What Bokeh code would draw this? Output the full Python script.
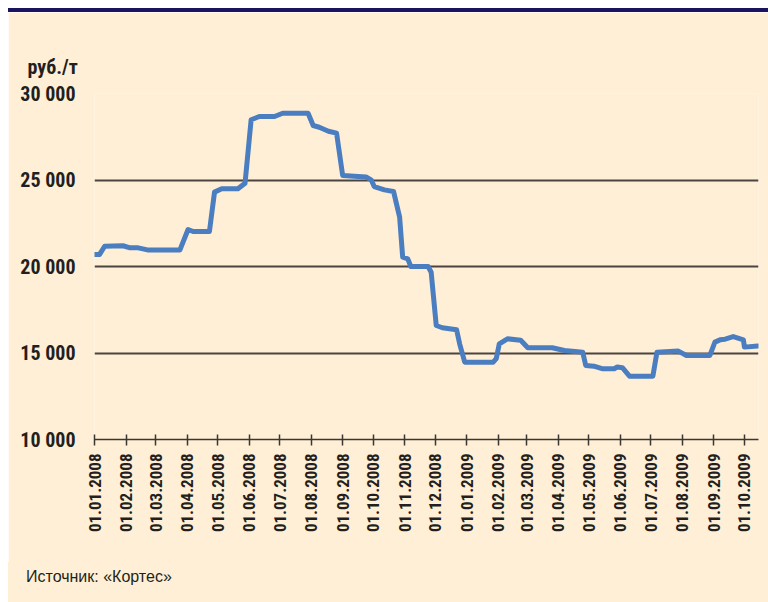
import math
import pandas as pd
from bokeh.plotting import figure
from bokeh.models import (ColumnDataSource, FixedTicker, DatetimeTickFormatter,
                          Range1d, Div)
from bokeh.layouts import column
from bokeh.embed import file_html
from bokeh.resources import INLINE

# ---- data ----
dates = [
    "2008-01-01", "2008-01-06", "2008-01-11", "2008-01-29", "2008-02-05", "2008-02-13",
    "2008-02-22", "2008-03-25", "2008-04-02", "2008-04-07", "2008-04-23", "2008-04-28",
    "2008-05-05", "2008-05-21", "2008-05-28", "2008-06-03", "2008-06-11", "2008-06-26",
    "2008-07-04", "2008-07-29", "2008-08-03", "2008-08-09", "2008-08-18", "2008-08-26",
    "2008-09-01", "2008-09-24", "2008-09-29", "2008-10-02", "2008-10-12", "2008-10-21",
    "2008-10-27", "2008-10-30", "2008-11-04", "2008-11-07", "2008-11-24", "2008-11-27",
    "2008-12-02", "2008-12-08", "2008-12-22", "2008-12-25", "2008-12-30", "2009-01-27",
    "2009-01-30", "2009-02-02", "2009-02-10", "2009-02-23", "2009-03-02", "2009-03-26",
    "2009-04-07", "2009-04-25", "2009-04-28", "2009-05-06", "2009-05-14", "2009-05-26",
    "2009-05-29", "2009-06-03", "2009-06-10", "2009-07-03", "2009-07-07", "2009-07-28",
    "2009-08-05", "2009-08-28", "2009-09-02", "2009-09-07", "2009-09-12", "2009-09-20",
    "2009-09-30", "2009-10-01", "2009-10-14",
]
prices = [
    20700, 20700, 21170, 21200, 21080, 21080,
    20960, 20960, 22140, 22020, 22020, 24300,
    24490, 24490, 24815, 28480, 28670, 28670,
    28860, 28860, 28150, 28050, 27820, 27710,
    25260, 25170, 25010, 24620, 24430, 24340,
    22850, 20540, 20445, 20000, 20000, 19670,
    16590, 16460, 16340, 15530, 14470, 14470,
    14670, 15530, 15820, 15740, 15300, 15300,
    15145, 15050, 14280, 14240, 14090, 14090,
    14190, 14150, 13660, 13660, 15050, 15110,
    14860, 14860, 15630, 15760, 15800, 15950,
    15760, 15340, 15400,
]
month_ticks = [
    "2008-01-01", "2008-02-01", "2008-03-01", "2008-04-01", "2008-05-01", "2008-06-01",
    "2008-07-01", "2008-08-01", "2008-09-01", "2008-10-01", "2008-11-01", "2008-12-01",
    "2009-01-01", "2009-02-01", "2009-03-01", "2009-04-01", "2009-05-01", "2009-06-01",
    "2009-07-01", "2009-08-01", "2009-09-01", "2009-10-01",
]
y_ticks = [10000, 15000, 20000, 25000, 30000]
y_tick_labels = ["10 000", "15 000", "20 000", "25 000", "30 000"]
unit_text = "руб./т"
source_text = "Источник: «Кортес»"

# ---- styles ----
BG = "#FFEFD6"
NAVY = "#1B1260"
TXT = "#231F20"
LINE = "#4A7EC0"
COND = "Roboto Condensed"

W = 760
src = ColumnDataSource(data=dict(x=pd.to_datetime(dates), y=prices))

p = figure(width=W, height=550, x_axis_type="datetime",
           output_backend="svg", toolbar_location=None,
           x_range=Range1d(pd.Timestamp("2008-01-01"), pd.Timestamp("2009-10-14 20:00")),
           y_range=Range1d(10000, 30000),
           min_border_left=86, min_border_right=10, min_border_top=81, min_border_bottom=123)
p.margin = (0, 0, 0, 8)
p.background_fill_color = BG
p.border_fill_color = BG
p.outline_line_color = None

p.line("x", "y", source=src, line_color=LINE, line_width=5, line_join="round", line_cap="round")

# x axis
xa = p.xaxis[0]
xa.ticker = FixedTicker(ticks=[pd.Timestamp(d).value / 1e6 for d in month_ticks])
fmt = "%d.%m.%Y"
xa.formatter = DatetimeTickFormatter(days=fmt, months=fmt, years=fmt, hours=fmt,
                                     minutes=fmt, seconds=fmt, milliseconds=fmt,
                                     microseconds=fmt, minsec=fmt, hourmin=fmt)
xa.major_label_orientation = math.pi / 2
xa.major_label_text_font = COND
xa.major_label_text_font_style = "bold"
xa.major_label_text_font_size = "17px"
xa.major_label_text_color = TXT
xa.major_label_standoff = 8
xa.axis_line_color = "#3A3632"
xa.axis_line_width = 1.5
xa.major_tick_line_color = "#3A3632"
xa.major_tick_line_width = 1.5
xa.major_tick_in = 5
xa.major_tick_out = 6
xa.minor_tick_line_color = None

# y axis
ya = p.yaxis[0]
ya.ticker = FixedTicker(ticks=y_ticks)
ya.major_label_overrides = {t: l for t, l in zip(y_ticks, y_tick_labels)}
ya.major_label_text_font = COND
ya.major_label_text_font_style = "bold"
ya.major_label_text_font_size = "20px"
ya.major_label_text_color = TXT
ya.major_label_standoff = 13
ya.axis_line_color = None
ya.major_tick_line_color = None
ya.minor_tick_line_color = None

p.xgrid.grid_line_color = None
p.ygrid.ticker = FixedTicker(ticks=y_ticks)
p.ygrid.grid_line_color = "#4B4541"
p.ygrid.grid_line_width = 1.8

# unit label (top-left)
p.title.text = unit_text
p.title.align = "left"
p.title.offset = -67
p.title.standoff = 29
p.title.text_font = COND
p.title.text_font_style = "bold"
p.title.text_font_size = "20px"
p.title.text_color = TXT

bar = Div(text="", width=W, height=4, margin=(8, 0, 0, 8),
          styles={"background-color": NAVY, "overflow": "hidden", "line-height": "0"})

note = Div(text=('<div style="padding:6px 0 0 18px; font-family:\'Liberation Sans\';'
                 ' font-size:16px; line-height:18px; color:%s; white-space:nowrap">%s</div>'
                 % (TXT, source_text)),
           width=W, height=40, margin=(0, 0, 0, 8),
           styles={"background-color": BG, "overflow": "hidden"})

layout = column(bar, p, note, spacing=0)

open("out.html", "w").write(file_html(layout, INLINE))
